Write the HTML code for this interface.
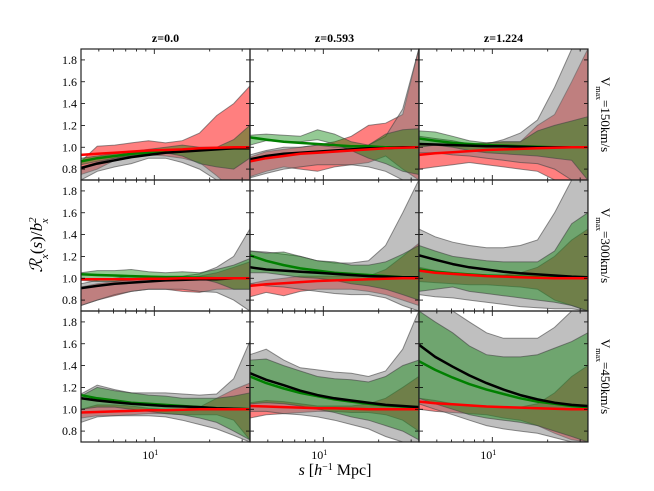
<!DOCTYPE html>
<html><head><meta charset="utf-8"><style>
html,body{margin:0;padding:0;background:#fff;}
svg{display:block;font-family:"Liberation Serif",serif;}
</style></head><body>
<svg id="chart" width="654" height="491" viewBox="0 0 654 491"></svg>
<script>
const sValues=[4,4.9,6.1,7.5,9.3,11.5,14.2,17.6,21.8,27,33];
const zLabels=["z=0.0","z=0.593","z=1.224"];
const vLabels=["150","300","450"];
const yTicks=[0.8,1.0,1.2,1.4,1.6,1.8];
const yTickLabels=["0.8","1.0","1.2","1.4","1.6","1.8"];
const xMajor=[10];
const xMinor=[4,5,6,7,8,9,20,30];
const grayLo=[
[0.7,0.78,0.82,0.85,0.9,0.9,0.86,0.8,0.7,0.6,0.6],
[0.72,0.76,0.8,0.82,0.84,0.84,0.84,0.82,0.78,0.7,0.7],
[0.95,0.95,0.93,0.92,0.9,0.88,0.86,0.85,0.8,0.7,0.7],
[0.75,0.8,0.85,0.88,0.9,0.9,0.9,0.88,0.87,0.8,0.7],
[0.95,0.93,0.92,0.9,0.88,0.86,0.85,0.85,0.82,0.75,0.7],
[0.85,0.83,0.82,0.8,0.78,0.76,0.74,0.73,0.72,0.72,0.7],
[0.88,0.93,0.94,0.94,0.94,0.93,0.9,0.86,0.82,0.76,0.7],
[0.98,0.98,0.96,0.95,0.93,0.9,0.86,0.82,0.75,0.7,0.7],
[1.05,1.0,0.95,0.9,0.85,0.82,0.8,0.78,0.74,0.7,0.7]];
const grayHi=[
[0.82,0.86,0.9,0.93,0.96,0.97,0.98,0.98,0.98,0.98,0.98],
[0.93,0.97,1.0,1.0,1.02,1.0,1.0,1.02,1.1,1.35,1.9],
[1.1,1.08,1.06,1.03,1.03,1.07,1.13,1.25,1.55,1.9,1.9],
[0.95,0.98,1.0,1.02,1.02,1.02,1.02,1.04,1.1,1.2,1.45],
[1.25,1.24,1.22,1.2,1.16,1.14,1.14,1.16,1.3,1.6,1.9],
[1.45,1.38,1.33,1.3,1.28,1.28,1.3,1.35,1.6,1.9,1.9],
[1.14,1.22,1.18,1.15,1.15,1.15,1.14,1.13,1.14,1.28,1.62],
[1.5,1.55,1.45,1.38,1.36,1.34,1.33,1.3,1.35,1.55,1.9],
[1.9,1.9,1.9,1.8,1.7,1.65,1.65,1.65,1.75,1.9,1.9]];
const greenLo=[
[0.84,0.87,0.9,0.92,0.94,0.95,0.92,0.85,0.82,0.8,0.9],
[1.02,1.06,1.05,1.05,1.07,1.03,0.97,0.9,0.85,0.78,0.75],
[1.0,1.02,1.0,0.97,0.95,0.94,0.93,0.92,0.9,0.88,0.7],
[0.98,0.97,0.97,0.98,0.99,1.0,1.0,1.0,0.96,0.9,0.9],
[1.05,1.05,1.03,1.01,1.0,0.98,0.95,0.93,0.9,0.85,0.8],
[0.88,0.9,0.92,0.88,0.86,0.84,0.82,0.8,0.78,0.75,0.7],
[1.0,1.02,1.02,1.0,0.98,0.96,0.95,0.92,0.88,0.8,0.72],
[1.05,1.06,1.05,1.03,1.0,0.97,0.93,0.9,0.85,0.8,0.72],
[1.1,1.05,1.0,0.95,0.92,0.9,0.88,0.85,0.8,0.75,0.7]];
const greenHi=[
[0.9,0.92,0.94,0.96,0.98,1.0,1.02,1.0,1.0,1.07,1.2],
[1.11,1.12,1.11,1.1,1.16,1.12,1.05,1.02,1.12,1.16,1.17],
[1.15,1.14,1.1,1.06,1.04,1.05,1.05,1.15,1.2,1.24,1.28],
[1.05,1.07,1.07,1.08,1.06,1.05,1.06,1.05,1.08,1.12,1.18],
[1.25,1.23,1.24,1.2,1.16,1.15,1.12,1.12,1.15,1.22,1.3],
[1.3,1.25,1.2,1.18,1.16,1.15,1.15,1.15,1.25,1.5,1.6],
[1.12,1.2,1.17,1.15,1.13,1.12,1.1,1.1,1.1,1.12,1.15],
[1.45,1.46,1.4,1.35,1.3,1.28,1.27,1.25,1.3,1.4,1.45],
[1.9,1.8,1.7,1.58,1.5,1.48,1.48,1.5,1.56,1.62,1.7]];
const redLo=[
[0.75,0.8,0.88,0.92,0.93,0.92,0.9,0.86,0.74,0.6,0.6],
[0.73,0.78,0.82,0.8,0.78,0.82,0.84,0.86,0.92,0.8,0.7],
[0.8,0.82,0.84,0.86,0.84,0.82,0.8,0.78,0.7,0.7,0.7],
[0.75,0.8,0.84,0.88,0.9,0.9,0.88,0.87,0.9,0.9,0.9],
[0.83,0.87,0.84,0.88,0.9,0.9,0.9,0.88,0.85,0.8,0.75],
[0.97,0.96,0.95,0.94,0.94,0.93,0.92,0.9,0.8,0.75,0.7],
[0.92,0.94,0.94,0.95,0.96,0.96,0.95,0.95,0.95,0.9,0.72],
[0.92,0.95,0.96,0.97,0.98,0.98,0.97,0.97,0.95,0.9,0.8],
[1.0,0.98,0.97,0.96,0.95,0.92,0.9,0.85,0.78,0.72,0.7]];
const redHi=[
[0.87,1.01,1.02,1.04,1.06,1.04,1.06,1.13,1.29,1.4,1.56],
[0.91,0.96,0.98,1.0,1.02,1.05,1.1,1.2,1.22,1.3,1.9],
[1.02,1.02,1.03,1.03,1.04,1.05,1.05,1.2,1.3,1.6,1.9],
[0.92,0.95,0.97,0.99,1.0,1.0,1.0,1.02,1.05,1.1,1.15],
[0.95,0.98,1.0,1.02,1.02,1.02,1.02,1.02,1.08,1.2,1.32],
[1.1,1.07,1.05,1.04,1.03,1.03,1.05,1.1,1.2,1.35,1.45],
[1.0,1.04,1.04,1.03,1.01,1.0,1.0,1.02,1.1,1.18,1.24],
[1.06,1.08,1.07,1.05,1.03,1.03,1.03,1.05,1.1,1.2,1.3],
[1.1,1.08,1.05,1.03,1.02,1.02,1.02,1.05,1.15,1.3,1.4]];
const blackLine=[
[0.81,0.85,0.88,0.91,0.93,0.95,0.96,0.97,0.98,0.99,0.99],
[0.89,0.92,0.94,0.95,0.96,0.97,0.98,0.99,0.99,1.0,1.0],
[1.03,1.025,1.02,1.015,1.01,1.01,1.005,1.0,1.0,1.0,1.0],
[0.91,0.93,0.95,0.96,0.97,0.98,0.985,0.99,0.99,1.0,1.0],
[1.1,1.08,1.07,1.06,1.05,1.04,1.03,1.02,1.015,1.01,1.01],
[1.21,1.17,1.13,1.1,1.08,1.06,1.045,1.035,1.025,1.015,1.01],
[1.1,1.08,1.065,1.05,1.04,1.03,1.025,1.02,1.01,1.005,1.0],
[1.33,1.27,1.22,1.17,1.13,1.1,1.08,1.06,1.04,1.03,1.02],
[1.59,1.48,1.39,1.31,1.24,1.18,1.13,1.09,1.06,1.04,1.03]];
const greenLine=[
[0.87,0.9,0.92,0.94,0.95,0.96,0.97,0.98,0.99,0.99,1.0],
[1.09,1.07,1.05,1.04,1.03,1.02,1.01,1.01,1.0,1.0,1.0],
[1.08,1.06,1.04,1.03,1.02,1.015,1.01,1.005,1.0,1.0,1.0],
[1.037,1.03,1.025,1.02,1.015,1.01,1.01,1.005,1.0,1.0,1.0],
[1.21,1.16,1.12,1.09,1.07,1.05,1.04,1.03,1.02,1.01,1.0],
[1.08,1.06,1.045,1.035,1.025,1.02,1.015,1.01,1.005,1.0,1.0],
[1.13,1.1,1.08,1.06,1.05,1.04,1.03,1.02,1.01,1.005,1.0],
[1.3,1.24,1.19,1.15,1.12,1.09,1.07,1.05,1.035,1.025,1.02],
[1.44,1.36,1.29,1.23,1.18,1.14,1.1,1.07,1.05,1.03,1.02]];
const redLine=[
[0.93,0.94,0.95,0.96,0.97,0.975,0.98,0.99,0.995,1.0,1.0],
[0.87,0.9,0.92,0.94,0.95,0.96,0.97,0.98,0.99,0.995,1.0],
[0.93,0.945,0.955,0.965,0.975,0.98,0.985,0.99,0.995,1.0,1.0],
[0.99,0.99,0.99,0.99,0.995,0.995,1.0,1.0,1.0,1.0,1.0],
[0.93,0.945,0.955,0.965,0.975,0.98,0.985,0.99,0.995,1.0,1.0],
[1.07,1.05,1.04,1.03,1.02,1.015,1.01,1.005,1.0,1.0,1.0],
[0.97,0.975,0.98,0.985,0.99,0.99,0.995,1.0,1.0,1.0,1.0],
[1.03,1.025,1.02,1.015,1.01,1.01,1.005,1.0,1.0,1.0,1.0],
[1.07,1.055,1.045,1.035,1.025,1.02,1.015,1.01,1.005,1.0,1.0]];

const NS="http://www.w3.org/2000/svg";
const svg=document.getElementById('chart');
const colX=[81,250,419], PW=169;
const rowY=[49,180,311], PH=131;
const XMIN=Math.log10(4), XMAX=Math.log10(33.1), YMIN=0.7, YMAX=1.9;
function mk(tag,attrs,parent){const e=document.createElementNS(NS,tag);for(const k in attrs)e.setAttribute(k,attrs[k]);(parent||svg).appendChild(e);return e;}
function xs(c,v){return colX[c]+(Math.log10(v)-XMIN)/(XMAX-XMIN)*PW;}
function ys(r,v){return rowY[r]+PH-(v-YMIN)/(YMAX-YMIN)*PH;}
const defs=mk('defs',{});
for(let r=0;r<3;r++)for(let c=0;c<3;c++){
  const p=r*3+c;
  const cp=mk('clipPath',{id:'clip'+p},defs);
  mk('rect',{x:colX[c],y:rowY[r],width:PW,height:PH},cp);
  const g=mk('g',{'clip-path':'url(#clip'+p+')'});
  
  
  function band(lo,hi,fill,op,name){
    let d='';
    sValues.forEach((s,i)=>{d+=(i?'L':'M')+xs(c,s).toFixed(1)+','+ys(r,hi[p][i]).toFixed(1);});
    for(let i=sValues.length-1;i>=0;i--)d+='L'+xs(c,sValues[i]).toFixed(1)+','+ys(r,lo[p][i]).toFixed(1);
    const e=mk('path',{d:d+'Z',fill:fill,'fill-opacity':op,stroke:'#444','stroke-opacity':0.6,'stroke-width':1},g);
    
    
  }
  band(redLo,redHi,'#ff0000',0.5,'red-band');
  band(grayLo,grayHi,'#808080',0.5,'gray-band');
  band(greenLo,greenHi,'#008000',0.42,'green-band');
  function line(arr,col,w,name){
    let d='';
    sValues.forEach((s,i)=>{d+=(i?'L':'M')+xs(c,s).toFixed(1)+','+ys(r,arr[p][i]).toFixed(1);});
    const e=mk('path',{d:d,fill:'none',stroke:col,'stroke-width':w,'stroke-linejoin':'round'},g);
    
    
  }
  line(greenLine,'#008000',2.5,'green-line');
  line(blackLine,'#000',2.5,'black-line');
  line(redLine,'#ff0000',2.5,'red-line');
  const tg=mk('g',{stroke:'#000','stroke-width':0.8});
  
  
  yTicks.forEach(v=>{const y=ys(r,v);mk('line',{x1:colX[c],x2:colX[c]+4,y1:y,y2:y},tg);mk('line',{x1:colX[c]+PW,x2:colX[c]+PW-4,y1:y,y2:y},tg);});
  xMajor.forEach(v=>{const x=xs(c,v);mk('line',{x1:x,x2:x,y1:rowY[r],y2:rowY[r]+5},tg);mk('line',{x1:x,x2:x,y1:rowY[r]+PH,y2:rowY[r]+PH-5},tg);});
  xMinor.forEach(v=>{const x=xs(c,v);mk('line',{x1:x,x2:x,y1:rowY[r],y2:rowY[r]+2.5},tg);mk('line',{x1:x,x2:x,y1:rowY[r]+PH,y2:rowY[r]+PH-2.5},tg);});
  const fr=mk('rect',{x:colX[c],y:rowY[r],width:PW,height:PH,fill:'none',stroke:'#222','stroke-width':1.2});
  
  
  if(c===0){yTicks.forEach((v,i)=>{const t=mk('text',{x:colX[0]-4,y:ys(r,v)+4,'text-anchor':'end','font-size':12});t.textContent=yTickLabels[i];});}
  if(r===2){xMajor.forEach(v=>{const t=mk('text',{x:xs(c,v)-4,y:459,'text-anchor':'middle','font-size':12});t.innerHTML='10<tspan baseline-shift="super" font-size="8">1</tspan>';});}
}
zLabels.forEach((z,c)=>{const t=mk('text',{x:colX[c]+PW/2,y:42,'text-anchor':'middle','font-size':12,'font-weight':'bold'});t.textContent=z;});
vLabels.forEach((v,r)=>{const cy=rowY[r]+PH/2;const t=mk('text',{x:0,y:0,'text-anchor':'middle','font-size':13,transform:'translate(601,'+cy+') rotate(90)'});t.innerHTML='V<tspan baseline-shift="sub" font-size="8">max</tspan>='+v+'km/s';});
const yl=mk('text',{x:0,y:0,'text-anchor':'middle','font-size':17,'font-style':'italic',transform:'translate(42,245) rotate(-90)'});
yl.innerHTML='ℛ<tspan font-size="11" baseline-shift="sub">x</tspan><tspan font-style="normal">(</tspan>s<tspan font-style="normal">)/</tspan>b<tspan font-size="11" baseline-shift="super">2</tspan><tspan font-size="11" dx="-6" baseline-shift="sub">x</tspan>';

const xl=mk('text',{x:335,y:475,'text-anchor':'middle','font-size':16});
xl.innerHTML='<tspan font-style="italic">s</tspan> [<tspan font-style="italic">h</tspan><tspan font-size="10" baseline-shift="super">−1</tspan> Mpc]';

</script>
</body></html>
